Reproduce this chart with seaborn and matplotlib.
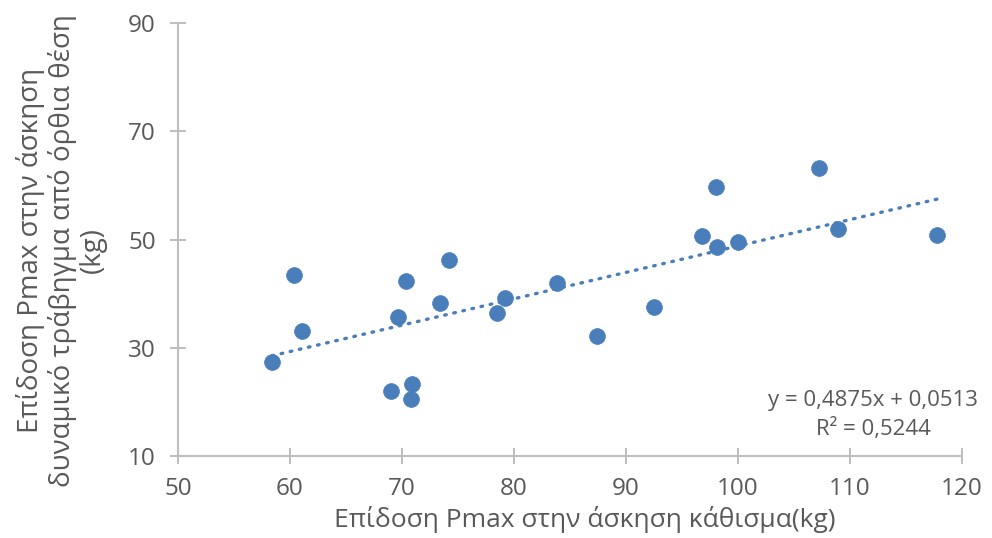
import numpy as np
import pandas as pd
import matplotlib
matplotlib.use("Agg")
import matplotlib.pyplot as plt
import seaborn as sns

# Data
squat_pmax = [58.4, 60.4, 61.1, 69.0, 69.6, 70.4, 70.8, 70.9, 73.4, 74.2, 78.5,
              79.2, 83.8, 87.4, 92.5, 96.8, 98.0, 98.1, 100.0, 107.2, 108.9, 117.8]
pull_pmax = [27.4, 43.4, 33.1, 22.0, 35.7, 42.3, 20.5, 23.3, 38.3, 46.2, 36.4,
             39.2, 42.0, 32.2, 37.5, 50.6, 59.7, 48.6, 49.5, 63.2, 51.9, 50.8]
trend_slope = 0.4875
trend_intercept = 0.0513
r_squared_text = "0,5244"
x_ticks = [50, 60, 70, 80, 90, 100, 110, 120]
y_ticks = [10, 30, 50, 70, 90]

df = pd.DataFrame({"x": squat_pmax, "y": pull_pmax})

sns.set_theme(style="white")
plt.rcParams['font.family'] = ['Open Sans', 'DejaVu Sans']

fig = plt.figure(figsize=(9.92, 5.38), dpi=100)
ax = fig.add_axes([0.1794, 0.1524, 0.7904, 0.8048])

blue = "#4A7EBB"
sns.scatterplot(data=df, x="x", y="y", ax=ax, color=blue, s=130,
                edgecolor=blue, linewidth=0.5, zorder=3)

xs = np.array([min(squat_pmax), max(squat_pmax)])
ax.plot(xs, trend_slope * xs + trend_intercept, color=blue, linewidth=2.4,
        linestyle=(0, (0.5, 2.3)), dash_capstyle="round", zorder=2)

ax.set_xlim(50, 120)
ax.set_ylim(10, 90)
ax.set_xticks(x_ticks)
ax.set_yticks(y_ticks)

axis_color = "#BFBFBF"
text_color = "#595959"
for side in ["top", "right"]:
    ax.spines[side].set_visible(False)
for side in ["left", "bottom"]:
    ax.spines[side].set_color(axis_color)
    ax.spines[side].set_linewidth(1.5)
ax.tick_params(axis="both", direction="inout", length=12, width=1.5,
               color=axis_color, labelcolor=text_color, labelsize=17.5)
ax.tick_params(axis="x", pad=9)
ax.tick_params(axis="y", pad=10)
ax.tick_params(axis="both", which="both", bottom=True, left=True)
ax.grid(False)

ax.set_xlabel("Επίδοση Pmax στην άσκηση κάθισμα(kg)", fontsize=19, color=text_color, labelpad=4)
ax.set_ylabel("Επίδοση Pmax στην άσκηση\nδυναμικό τράβηγμα από όρθια θέση\n(kg)",
              fontsize=20, color=text_color, labelpad=15, linespacing=1.12)
ax.xaxis.label.set_x(0.519)
ax.yaxis.label.set_y(0.475)

ax.text(0.88, 0.228,
        f"y = {str(trend_slope).replace('.', ',')}x + {str(trend_intercept).replace('.', ',')}\nR² = {r_squared_text}",
        transform=fig.transFigure, ha="center", va="center", multialignment="center",
        fontsize=16, color=text_color, linespacing=1.4)

fig.savefig("out.png", dpi=100, facecolor="white")
